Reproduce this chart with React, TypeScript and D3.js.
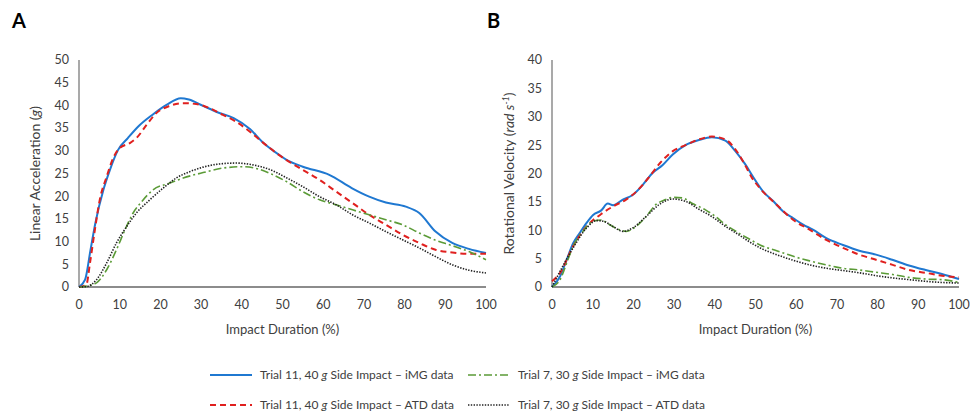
import React from "react";
import * as d3 from "d3";

// Panel A: linear acceleration (g) vs impact duration (%)
const accBlue: [number, number][] = [[0,0],[1.5,1.6],[2.8,8],[4,14],[6,21.4],[7.6,25.8],[9.6,30.2],[12,32.8],[14.5,35.3],[18,37.9],[21.5,40.1],[25,41.6],[27,41.3],[30.5,39.9],[34,38.5],[38,37.2],[42,34.8],[45,32],[49,29.2],[51,28],[55,26.5],[61.5,24.7],[67,21.8],[71.3,19.9],[75.4,18.6],[80.3,17.7],[83.6,16.3],[87.6,12.2],[91.7,9.7],[95.8,8.4],[100,7.5]];
const accRed: [number, number][] = [[0,0],[1.8,0.5],[2.7,5.3],[3.9,12.6],[5.1,19.2],[6.8,24.3],[8.4,28.4],[10,30.6],[12.5,31.7],[14.1,32.8],[16.6,35.7],[19,38.3],[22.3,39.9],[25.6,40.5],[28.8,40.3],[32.1,39.4],[35.4,37.9],[38.6,36.4],[42,34.2],[45.2,31.8],[50.9,28],[55,25.8],[59.1,23.6],[63.2,21],[67.2,18.5],[71.3,15.9],[75.4,13.7],[79.5,11.5],[83.6,9.7],[87.6,8.2],[91.7,7.6],[95.8,7.3],[100,7.3]];
const accGreen: [number, number][] = [[0,0],[2,0.2],[4.3,0.9],[6.8,3.8],[9.2,8.2],[11.3,12.6],[13.3,16.3],[15.4,18.8],[18.2,21.4],[22.3,22.9],[25.6,24],[30.5,25.2],[35.4,26.2],[40.3,26.5],[44,26],[47,25],[51,23.2],[55,21],[59.1,19.2],[63.2,18.1],[67.2,17],[71.3,15.9],[75.4,14.8],[79.5,13.7],[83.6,11.9],[87.6,10.3],[91.7,9.1],[95.8,7.8],[100,6]];
const accBlack: [number, number][] = [[0,0],[1.9,0.1],[4.3,1.6],[6.8,5.3],[9.2,9.7],[11.7,13.3],[14.1,16.3],[17.4,19.2],[20.7,21.8],[23.9,24],[27.2,25.4],[30.5,26.4],[34.5,27.1],[38.6,27.3],[42.7,26.9],[46.8,25.9],[50.9,24.1],[55,22.1],[59.1,19.9],[63.2,18.1],[67.2,15.9],[71.3,14.1],[75.4,12.2],[79.5,10.4],[83.6,8.6],[87.6,6.7],[91.7,4.9],[95.8,3.7],[100,3.1]];

// Panel B: rotational velocity (rad/s) vs impact duration (%)
const rotBlue: [number, number][] = [[0,0],[2,1.9],[3.6,4.8],[5.2,7.7],[6.8,9.5],[8.5,11.3],[10.1,12.7],[12.1,13.5],[13.7,14.7],[15,14.4],[17.4,15.4],[19.8,16.2],[22.3,18],[24.7,20.1],[27.2,21.5],[29.6,23.3],[32.8,25],[36.1,25.9],[39.3,26.4],[42.6,25.8],[45,24],[47.5,21.6],[49.5,19.3],[51.9,16.8],[54.4,15.1],[56.8,13.3],[59.3,12.1],[61.7,11],[64.1,10.1],[67.4,8.6],[71.5,7.4],[75.5,6.4],[79.6,5.7],[83.6,4.8],[87.7,3.8],[91.8,3],[95.8,2.3],[100,1.4]];
const rotRed: [number, number][] = [[0,1],[2,2.5],[5.2,7.2],[8.5,10.7],[11.8,12.7],[15,14.2],[18.2,15.4],[20.7,16.8],[24,19.5],[26.5,21.8],[29.6,23.9],[32.8,25],[36.1,26],[39.3,26.5],[42.6,26],[45,24.3],[47.5,21.4],[49,19.4],[51.1,17.4],[55.2,14.5],[59.3,11.8],[63.3,10.1],[67.4,8.3],[71.5,6.9],[75.5,5.7],[79.6,4.8],[83.7,3.9],[87.7,3],[91.8,2.5],[95.8,2],[100,1.7]];
const rotGreen: [number, number][] = [[0,0],[2,1.3],[3.6,4.2],[5.2,7.2],[7.6,9.8],[10.1,11.6],[12.1,11.8],[14.1,11],[16.6,10.1],[18.2,9.8],[20.7,10.7],[23.1,12.4],[25.5,14.5],[27.9,15.4],[29.6,15.8],[32,15.7],[34.5,14.7],[37.7,13.6],[40.2,12.4],[42.6,11],[45.9,9.5],[49.1,8.2],[51.1,7.4],[55.2,6.4],[59.3,5.4],[63.3,4.6],[67.4,3.9],[71.5,3.3],[75.5,3],[79.6,2.6],[83.7,2.2],[87.7,1.7],[91.8,1.4],[95.8,1.3],[100,0.8]];
const rotBlack: [number, number][] = [[0,0],[5.2,6.9],[8.5,10.4],[10.9,11.7],[12.5,11.6],[14.9,10.7],[17.4,9.8],[19.8,10.4],[23.1,12.4],[26.3,14.5],[29.6,15.5],[32.8,15.1],[36.1,13.7],[39.3,12.4],[42.6,10.7],[45.9,9.2],[49.1,7.7],[51.1,6.9],[55.2,5.7],[59.3,4.7],[63.3,3.9],[67.4,3.3],[71.5,2.9],[75.5,2.5],[79.6,2],[83.7,1.6],[87.7,1.3],[91.8,1],[95.8,0.8],[100,0.7]];

const xTicks = [0, 10, 20, 30, 40, 50, 60, 70, 80, 90, 100];
const accTicks = [0, 5, 10, 15, 20, 25, 30, 35, 40, 45, 50];
const rotTicks = [0, 5, 10, 15, 20, 25, 30, 35, 40];

const seriesStyles = [
  { key: "blue", color: "#1f78d1", width: 2, dash: null },
  { key: "red", color: "#e0201f", width: 2, dash: "6,4" },
  { key: "green", color: "#5b9b37", width: 1.6, dash: "8,3,2,3" },
  { key: "black", color: "#222222", width: 1.6, dash: "1.4,1.4" },
];

const FONT = "Lato, 'Open Sans', sans-serif";
const TEXT = "#404040";
const AXIS = "#8c8c8c";

function Panel({ x0, x1, yTop, yBot, ticks, yMax, series, yLabel, labelX }: any) {
  const x = d3.scaleLinear().domain([0, 100]).range([x0, x1]);
  const y = d3.scaleLinear().domain([0, yMax]).range([yBot, yTop]);
  const line = d3
    .line<[number, number]>()
    .x((d) => x(d[0]))
    .y((d) => y(d[1]))
    .curve(d3.curveMonotoneX);
  return (
    <g>
      <line x1={x0} x2={x0} y1={yTop} y2={yBot} stroke={AXIS} strokeWidth={1.5} />
      <line x1={x0} x2={x1} y1={yBot} y2={yBot} stroke={AXIS} strokeWidth={2} />
      {ticks.map((t: number) => (
        <text key={t} x={x0 - 10} y={y(t)} dy="0.35em" textAnchor="end" fontSize={12.5} fill={TEXT}>
          {t}
        </text>
      ))}
      {xTicks.map((t) => (
        <text key={t} x={x(t)} y={yBot + 22} textAnchor="middle" fontSize={12.5} fill={TEXT}>
          {t}
        </text>
      ))}
      {series.map((s: [number, number][], i: number) => {
        const st = seriesStyles[i];
        return (
          <path
            key={st.key}
            d={line(s) || ""}
            fill="none"
            stroke={st.color}
            strokeWidth={st.width}
            strokeDasharray={st.dash || undefined}
          />
        );
      })}
      <text
        transform={`translate(${labelX},${(yTop + yBot) / 2}) rotate(-90)`}
        textAnchor="middle"
        fontSize={14}
        fill={TEXT}
      >
        {yLabel}
      </text>
      <text x={(x0 + x1) / 2} y={334} textAnchor="middle" fontSize={13} fill={TEXT}>
        Impact Duration (%)
      </text>
    </g>
  );
}

const legendItems = [
  { s: 0, x: 210, y: 375, trial: "Trial 11, 40 ", tail: " Side Impact – iMG data" },
  { s: 2, x: 468, y: 375, trial: "Trial 7, 30 ", tail: " Side Impact – iMG data" },
  { s: 1, x: 210, y: 405, trial: "Trial 11, 40 ", tail: " Side Impact – ATD data" },
  { s: 3, x: 468, y: 405, trial: "Trial 7, 30 ", tail: " Side Impact – ATD data" },
];

export default function App() {
  return (
    <svg
      width={971}
      height={413}
      style={{ position: "absolute", left: 0, top: 0, background: "#fff" }}
      fontFamily={FONT}
    >
      <text x={12} y={28} fontSize={20} fontWeight="bold" fill="#000">A</text>
      <text x={487} y={28} fontSize={20} fontWeight="bold" fill="#000">B</text>
      <Panel
        x0={79}
        x1={486}
        yTop={60}
        yBot={287}
        ticks={accTicks}
        yMax={50}
        series={[accBlue, accRed, accGreen, accBlack]}
        labelX={40}
        yLabel={
          <>
            Linear Acceleration (<tspan fontStyle="italic">g</tspan>)
          </>
        }
      />
      <Panel
        x0={552}
        x1={959}
        yTop={60}
        yBot={287}
        ticks={rotTicks}
        yMax={40}
        series={[rotBlue, rotRed, rotGreen, rotBlack]}
        labelX={514}
        yLabel={
          <>
            Rotational Velocity (<tspan fontStyle="italic">rad s</tspan>
            <tspan fontStyle="italic" fontSize={9} dy={-5}>-1</tspan>
            <tspan dy={5}>)</tspan>
          </>
        }
      />
      {legendItems.map((it, i) => {
        const st = seriesStyles[it.s];
        return (
          <g key={i}>
            <line
              x1={it.x}
              x2={it.x + 42}
              y1={it.y}
              y2={it.y}
              stroke={st.color}
              strokeWidth={st.width}
              strokeDasharray={st.dash || undefined}
            />
            <text x={it.x + 50} y={it.y} dy="0.35em" fontSize={12} fill={TEXT}>
              {it.trial}
              <tspan fontStyle="italic">g</tspan>
              {it.tail}
            </text>
          </g>
        );
      })}
    </svg>
  );
}
